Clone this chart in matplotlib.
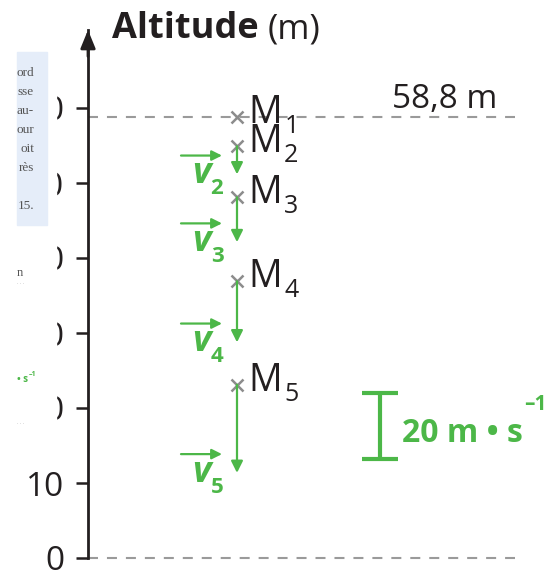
import matplotlib.pyplot as plt
from matplotlib.patches import Rectangle

plt.rcParams['font.family'] = ['Open Sans', 'DejaVu Sans']

# data
alt_ticks = [0, 10, 20, 30, 40, 50, 60]
point_names = ['1', '2', '3', '4', '5']
altitudes = [58.8, 54.9, 48.1, 36.9, 23.1]     # m
speed_names = ['2', '3', '4', '5']
speeds = [8.5, 13.6, 18.5, 26.7]               # m/s, for M2..M5
scale_speed = 20                               # m/s
top_label = '58,8 m'
page_lines = ['ord', 'sse', 'au-', 'our', 'oit', 'rès', '', '15.']

GREEN = '#4cb748'
DARK = '#231f20'
GREY = '#9a9a9a'

W, H = 551, 577
fig = plt.figure(figsize=(W / 100, H / 100), dpi=100)
ax = fig.add_axes([88 / W, 19 / H, (W - 88) / W, 528 / H])
ax.set_xlim(0, W - 88)
ax.set_ylim(0, 70.4)
k = 0.44          # altitude units per m/s for the vectors
x_pt = 149        # column of the points

def py(p):
    # pixel row (from top) -> altitude
    return (558 - p) / 7.5

for s in ['top', 'right', 'bottom']:
    ax.spines[s].set_visible(False)
ax.spines['left'].set_linewidth(2)
ax.spines['left'].set_color(DARK)
ax.set_xticks([])
ax.set_yticks(alt_ticks)
ax.tick_params(axis='y', length=9, width=1.8, color=DARK, pad=8,
               labelsize=24, labelcolor=DARK)
ax.annotate('', xy=(0, 1), xytext=(0, 0.95), xycoords='axes fraction',
            arrowprops=dict(arrowstyle='-|>,head_length=1.1,head_width=0.45',
                            lw=2, color=DARK, shrinkA=0, shrinkB=0))

# dashed reference lines
ax.plot([0, 427], [altitudes[0], altitudes[0]], color=GREY, lw=1.5,
        dashes=(4.8, 4.3), zorder=1)
ax.plot([0, 427], [0, 0], color=GREY, lw=1.5, dashes=(4.8, 4.3), zorder=1,
        clip_on=False)
ax.text(409, py(108), top_label, fontsize=24, color=DARK, ha='right',
        va='baseline')

# points
ax.plot([x_pt] * len(altitudes), altitudes, 'x', color='#8c8c8c', ms=8,
        mew=1.8, zorder=3)
for name, a in zip(point_names, altitudes):
    ax.annotate('M', (x_pt, a), xytext=(8, 3), textcoords='offset points',
                fontsize=27, color=DARK, ha='left', va='center')
    ax.annotate(name, (x_pt, a), xytext=(34, -7), textcoords='offset points',
                fontsize=18, color=DARK, ha='left', va='center')

# velocity vectors
for name, a, v in zip(speed_names, altitudes[1:], speeds):
    tip = a - v * k
    ax.annotate('', xy=(x_pt, tip), xytext=(x_pt, a),
                arrowprops=dict(arrowstyle='-|>,head_length=0.7,head_width=0.35',
                                lw=1.6, color=GREEN, shrinkA=0, shrinkB=0))
    ax.annotate('', xy=(134, tip + 2.5), xytext=(93, tip + 2.5),
                arrowprops=dict(arrowstyle='-|>,head_length=0.6,head_width=0.3',
                                lw=1.6, color=GREEN, shrinkA=0, shrinkB=0))
    ax.text(113, tip, 'v', fontsize=26, fontweight='bold', style='italic',
            color=GREEN, ha='center', va='center')
    ax.text(129, tip - 1.9, name, fontsize=16, fontweight='bold',
            color=GREEN, ha='center', va='center')

# scale bar
y0 = py(459)
y1 = y0 + scale_speed * k
ax.plot([292, 292], [y0, y1], color=GREEN, lw=3, solid_capstyle='butt')
ax.plot([274, 310], [y0, y0], color=GREEN, lw=3, solid_capstyle='butt')
ax.plot([274, 310], [y1, y1], color=GREEN, lw=3, solid_capstyle='butt')
ax.text(314, py(442), f'{scale_speed} m \u2022 s', fontsize=23,
        fontweight='bold', color=GREEN, ha='left', va='baseline')
ax.text(436, py(405), '\u20131', fontsize=15, fontweight='bold',
        color=GREEN, ha='left', va='center')

# title
fig.text(112 / W, 1 - 38 / H, 'Altitude', fontsize=26, fontweight='bold',
         color=DARK, va='baseline')
fig.text(268 / W, 1 - 38 / H, '(m)', fontsize=25, color=DARK, va='baseline')

# neighbouring page covering the left edge
fig.patches.append(Rectangle((0, 1 - 465 / H), 56 / W, 465 / H,
                             transform=fig.transFigure, color='white',
                             zorder=5))
fig.patches.append(Rectangle((17 / W, 1 - 225 / H), 30 / W, 173 / H,
                             transform=fig.transFigure, color='#e5edf9',
                             zorder=6))
for i, line in enumerate(page_lines):
    fig.text(34 / W, 1 - (73 + i * 19) / H, line, family='Liberation Serif',
             fontsize=9.5, color='#555555', ha='right', va='center', zorder=7)
fig.text(17 / W, 1 - 273 / H, 'n', family='Liberation Serif', fontsize=9,
         color='#555555', va='center', zorder=7)
fig.text(17 / W, 1 - 282 / H, '. . .', fontsize=4, color='#aaaaaa',
         va='center', zorder=7)
fig.text(17 / W, 1 - 379 / H, '\u2022 s', fontsize=7, fontweight='bold',
         color=GREEN, va='center', zorder=7)
fig.text(29 / W, 1 - 375 / H, '\u20131', fontsize=5, fontweight='bold',
         color=GREEN, va='center', zorder=7)
fig.text(17 / W, 1 - 422 / H, '. . .', fontsize=4, color='#aaaaaa',
         va='center', zorder=7)

fig.savefig('out.png', dpi=100)
